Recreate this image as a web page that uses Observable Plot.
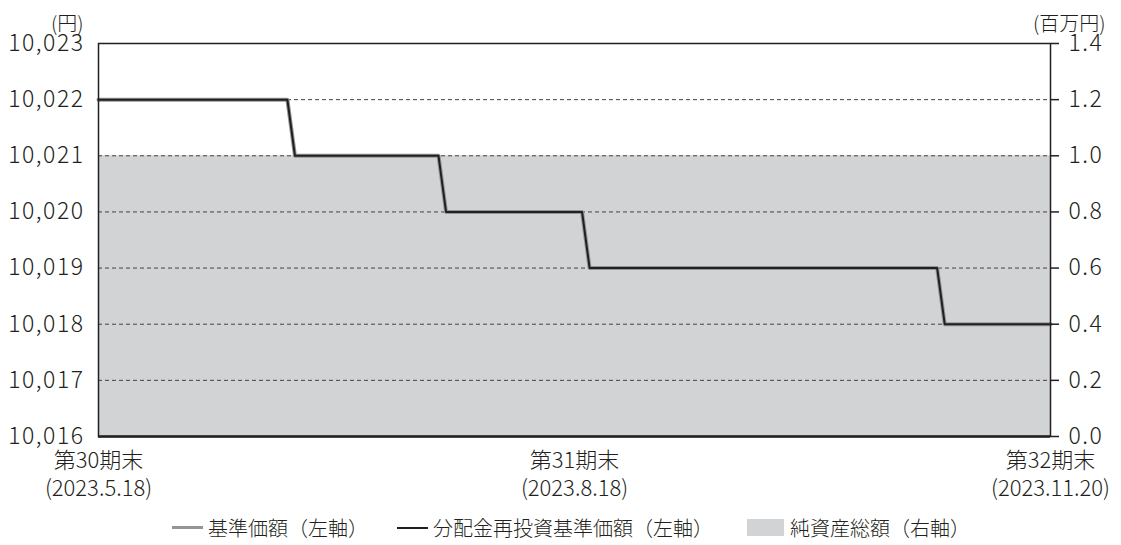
<!DOCTYPE html>
<html><head><meta charset="utf-8">
<script src="https://cdn.jsdelivr.net/npm/d3@7"></script>
<script src="https://cdn.jsdelivr.net/npm/@observablehq/plot@0.6"></script>
<style>
body{margin:0;background:#fff;font-family:"Noto Sans CJK JP","Noto Sans",sans-serif;color:#231f20;}
#legend{display:flex;justify-content:flex-start;align-items:center;font-size:20px;height:35px;padding-left:172px;font-weight:300}
#legend .item{display:flex;align-items:center}
#legend .sw{display:inline-block;margin-right:5px}
g[aria-label="y-axis tick label"] text{letter-spacing:1.5px}
g[aria-label="xdate"] text{letter-spacing:2px}
</style></head>
<body><div id="chart"></div>
<div id="legend">
<span class="item" style="margin-right:29px"><span class="sw" style="width:31px;height:3px;background:#939598"></span>基準価額（左軸）</span>
<span class="item" style="margin-right:34px"><span class="sw" style="width:31px;height:2px;background:#231f20"></span>分配金再投資基準価額（左軸）</span>
<span class="item"><span class="sw" style="width:37px;height:17px;background:#d1d3d4;margin-right:6px"></span>純資産総額（右軸）</span>
</div>
<script>
// business-day index (0 = 2023-05-18, 63 = 2023-08-18, 126 = 2023-11-20)
const dayIdx   = [0, 25, 26, 45, 46, 64, 65, 111, 112, 126];
const navValue = [10022, 10022, 10021, 10021, 10020, 10020, 10019, 10019, 10018, 10018];
const reinvValue = [10022, 10022, 10021, 10021, 10020, 10020, 10019, 10019, 10018, 10018];
const assetDays = [0, 126];
const assetValue = [1.0, 1.0]; // 百万円
const xTickPos = [0, 63, 126];
const xTickLine1 = ["第30期末", "第31期末", "第32期末"];
const xTickLine2 = ["(2023.5.18)", "(2023.8.18)", "(2023.11.20)"];
const leftTicks = [10016, 10017, 10018, 10019, 10020, 10021, 10022, 10023];
const rightTicks = [0, 0.2, 0.4, 0.6, 0.8, 1.0, 1.2, 1.4];

const yMin = 10016, yMax = 10023, rMax = 1.4;
const toLeft = v => yMin + v / rMax * (yMax - yMin);
const fromLeft = y => (y - yMin) / (yMax - yMin) * rMax;

const nav = dayIdx.map((d, i) => ({d, v: navValue[i]}));
const reinv = dayIdx.map((d, i) => ({d, v: reinvValue[i]}));
const assets = assetDays.map((d, i) => ({d, v: toLeft(assetValue[i])}));

const ink = "#231f20";
const chart = Plot.plot({
  width: 1121, height: 510,
  marginLeft: 98, marginRight: 71, marginTop: 43, marginBottom: 74,
  style: {fontFamily: '"Noto Sans CJK JP","Noto Sans",sans-serif', fontSize: "21px", color: ink, fontWeight: 300},
  x: {domain: [0, 126], axis: null},
  y: {domain: [yMin, yMax], axis: null},
  marks: [
    Plot.areaY(assets, {x: "d", y1: yMin, y2: "v", fill: "#d1d3d4"}),
    Plot.ruleY(leftTicks.slice(1, -1), {stroke: "#444", strokeWidth: 1, strokeDasharray: "4,3"}),
    Plot.line(nav, {x: "d", y: "v", stroke: "#939598", strokeWidth: 4}),
    Plot.line(reinv, {x: "d", y: "v", stroke: ink, strokeWidth: 2}),
    Plot.frame({stroke: ink, strokeWidth: 1.5}),
    Plot.ruleY([yMin], {stroke: ink, strokeWidth: 2.5}),
    Plot.axisY(leftTicks, {anchor: "left", tickSize: 0, tickPadding: 14, tickFormat: d3.format(","), label: null, fontSize: 23}),
    Plot.axisY(rightTicks.map(toLeft), {anchor: "right", tickSize: 8, tickPadding: 10, tickFormat: d => fromLeft(d).toFixed(1), label: null, stroke: ink, strokeWidth: 1.5, fontSize: 23}),
    Plot.text(xTickPos, {x: d => d, frameAnchor: "bottom", dy: 31, text: (d, i) => xTickLine1[i], fontSize: 22}),
    Plot.text(xTickPos, {x: d => d, frameAnchor: "bottom", dy: 59, text: (d, i) => xTickLine2[i], fontSize: 22, ariaLabel: "xdate"}),
    Plot.text(["(円)"], {frameAnchor: "top-left", dx: -15, dy: -27, textAnchor: "end", fontSize: 20}),
    Plot.text(["(百万円)"], {frameAnchor: "top-right", dx: 55, dy: -27, textAnchor: "end", fontSize: 20})
  ]
});
document.getElementById("chart").appendChild(chart);
</script>
</body></html>
